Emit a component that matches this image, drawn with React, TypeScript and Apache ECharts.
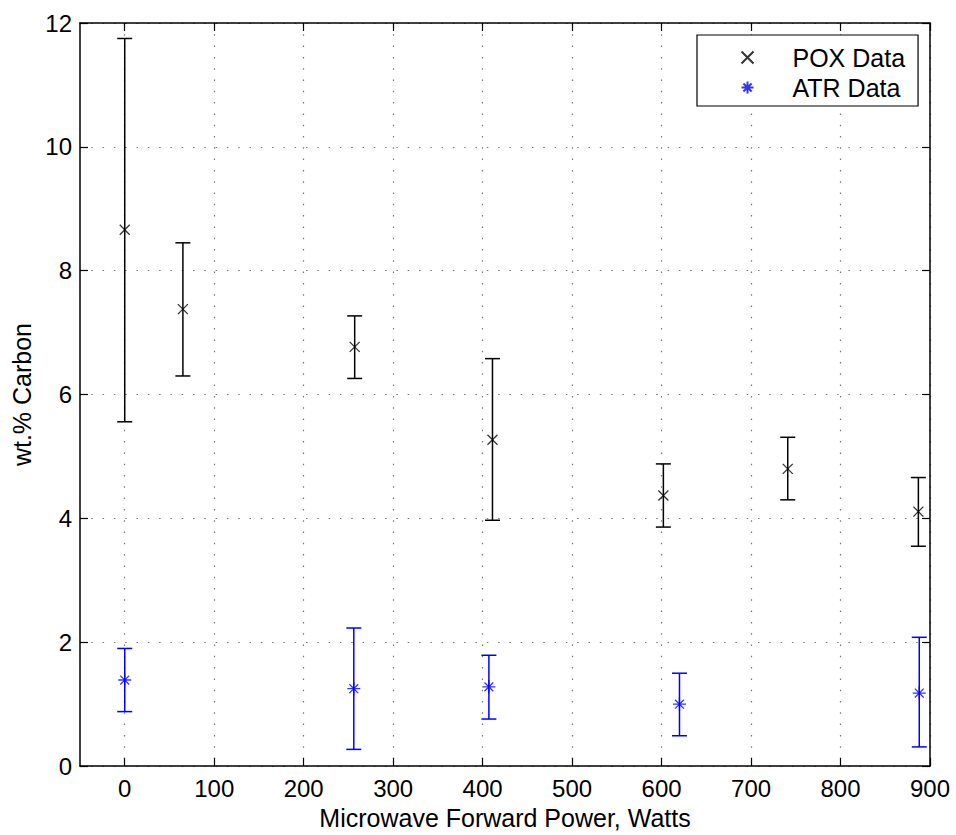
import React, { useEffect, useRef } from "react";
import * as echarts from "echarts";

// POX data (x in Watts, y in wt.% carbon, error bar low/high)
const poxX = [0, 65, 257, 411, 602, 741, 887];
const poxY = [8.66, 7.38, 6.77, 5.27, 4.37, 4.8, 4.11];
const poxLow = [5.56, 6.3, 6.26, 3.97, 3.86, 4.3, 3.55];
const poxHigh = [11.75, 8.45, 7.27, 6.58, 4.88, 5.31, 4.66];

// ATR data
const atrX = [0, 256, 407, 620, 888];
const atrY = [1.39, 1.25, 1.28, 1.0, 1.18];
const atrLow = [0.88, 0.27, 0.76, 0.49, 0.31];
const atrHigh = [1.9, 2.23, 1.79, 1.5, 2.08];

const xTicks = [0, 100, 200, 300, 400, 500, 600, 700, 800, 900];

const FONT = "'Liberation Sans', Arial, Helvetica, sans-serif";
const X_SYMBOL = "path://M0,0L10,10M10,0L0,10";
const STAR_SYMBOL = "path://M0,5L10,5M5,0L5,10M1.6,1.6L8.4,8.4M8.4,1.6L1.6,8.4";

function errorBarSeries(name: string, xs: number[], lo: number[], hi: number[], color: string, width: number) {
  return {
    type: "custom",
    name,
    data: xs.map((x, i) => [x, lo[i], hi[i]]),
    encode: { x: 0, y: [1, 2] },
    z: 2,
    renderItem: (params: any, api: any) => {
      const x = api.value(0);
      const pLo = api.coord([x, api.value(1)]);
      const pHi = api.coord([x, api.value(2)]);
      const half = 7.5;
      const style = { stroke: color, lineWidth: width };
      return {
        type: "group",
        children: [
          { type: "line", shape: { x1: pLo[0], y1: pLo[1], x2: pHi[0], y2: pHi[1] }, style },
          { type: "line", shape: { x1: pLo[0] - half, y1: pLo[1], x2: pLo[0] + half, y2: pLo[1] }, style },
          { type: "line", shape: { x1: pHi[0] - half, y1: pHi[1], x2: pHi[0] + half, y2: pHi[1] }, style },
        ],
      };
    },
  };
}

export default function App() {
  const ref = useRef<HTMLDivElement>(null);
  useEffect(() => {
    if (!ref.current) return;
    const chart = echarts.init(ref.current, null, { renderer: "svg" });
    const gridLine = { show: true, lineStyle: { color: "#777", width: 1.2, type: [1.5, 9.8] } };
    const axisLine = { show: true, onZero: false, lineStyle: { color: "#000", width: 1.5 } };
    const tick = { show: true, inside: true, length: 8, lineStyle: { color: "#000", width: 1.2 } };
    chart.setOption({
      animation: false,
      backgroundColor: "#fff",
      textStyle: { fontFamily: FONT },
      grid: { left: 80, top: 23, right: 26, bottom: 68, containLabel: false },
      legend: {
        data: ["POX Data", "ATR Data"],
        orient: "vertical",
        left: 697,
        top: 35,
        itemWidth: 80,
        itemHeight: 12,
        itemGap: 5,
        padding: [10, 13, 6, 42],
        borderColor: "#000",
        borderWidth: 1.2,
        backgroundColor: "#fff",
        selectedMode: false,
        textStyle: { fontSize: 25, color: "#000", fontFamily: FONT, lineHeight: 25 },
      },
      xAxis: [
        {
          type: "value",
          min: -50,
          max: 900,
          position: "bottom",
          axisLine,
          axisTick: { ...tick, customValues: xTicks },
          axisLabel: { customValues: xTicks, fontSize: 24, color: "#000", margin: 10, fontFamily: FONT },
          splitLine: gridLine,
          name: "Microwave Forward Power, Watts",
          nameLocation: "middle",
          nameGap: 38,
          nameTextStyle: { fontSize: 25, color: "#000", fontFamily: FONT },
        },
        {
          type: "value",
          min: -50,
          max: 900,
          position: "top",
          axisLine,
          axisTick: { ...tick, customValues: xTicks },
          axisLabel: { show: false, customValues: xTicks },
          splitLine: { show: false },
        },
      ],
      yAxis: [
        {
          type: "value",
          min: 0,
          max: 12,
          interval: 2,
          position: "left",
          axisLine,
          axisTick: tick,
          axisLabel: { fontSize: 24, color: "#000", margin: 8, fontFamily: FONT },
          splitLine: gridLine,
          name: "wt.% Carbon",
          nameLocation: "middle",
          nameGap: 45,
          nameTextStyle: { fontSize: 25, color: "#000", fontFamily: FONT },
        },
        {
          type: "value",
          min: 0,
          max: 12,
          interval: 2,
          position: "right",
          axisLine,
          axisTick: tick,
          axisLabel: { show: false },
          splitLine: { show: false },
        },
      ],
      series: [
        errorBarSeries("POX error", poxX, poxLow, poxHigh, "#000", 1.5),
        errorBarSeries("ATR error", atrX, atrLow, atrHigh, "#0000ff", 1.5),
        {
          type: "scatter",
          name: "POX Data",
          data: poxX.map((x, i) => [x, poxY[i]]),
          symbol: X_SYMBOL,
          symbolSize: 10,
          z: 3,
          itemStyle: { color: "none", borderColor: "#000", borderWidth: 1.3 },
        },
        {
          type: "scatter",
          name: "ATR Data",
          data: atrX.map((x, i) => [x, atrY[i]]),
          symbol: STAR_SYMBOL,
          symbolSize: 13,
          z: 3,
          itemStyle: { color: "none", borderColor: "#0000ff", borderWidth: 1.3 },
        },
      ],
    });
    return () => chart.dispose();
  }, []);
  return (
    <div
      ref={ref}
      style={{ position: "fixed", left: 0, top: 0, width: 956, height: 835, background: "#fff" }}
    />
  );
}
